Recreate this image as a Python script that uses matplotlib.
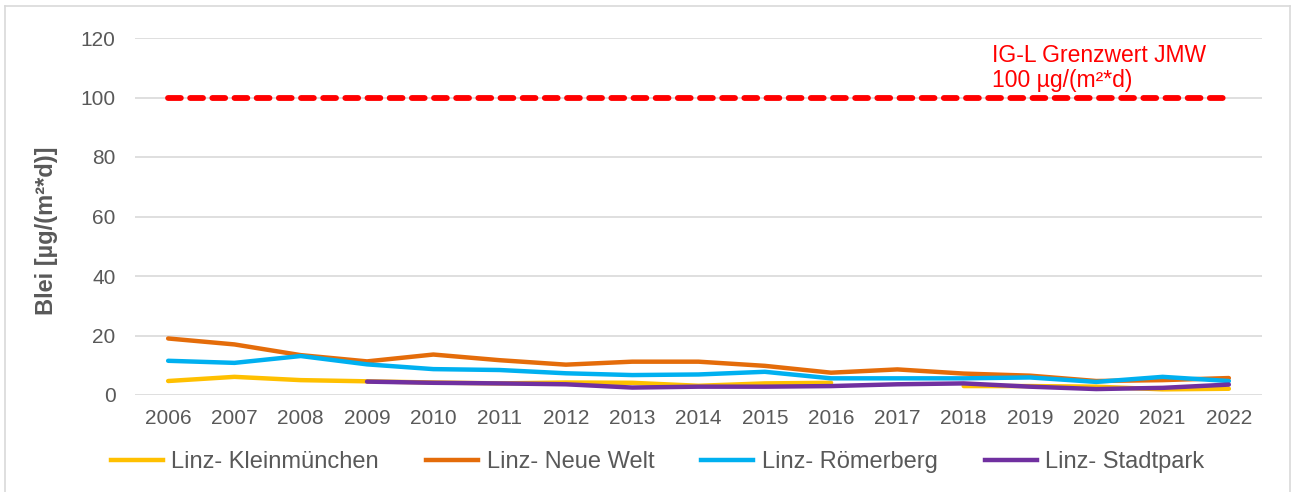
import numpy as np
import matplotlib.pyplot as plt
from matplotlib.lines import Line2D

plt.rcParams['font.family'] = ['Liberation Sans', 'DejaVu Sans']

years = list(range(2006, 2023))

kleinmuenchen = [4.7, 6.1, 5.0, 4.6, 4.2, 3.9, 4.2, 4.1, 3.1, 3.9, 4.1, np.nan, 3.0, 3.0, 2.8, 1.9, 2.1]
neue_welt = [19.0, 17.0, 13.4, 11.3, 13.6, 11.7, 10.2, 11.2, 11.2, 9.8, 7.5, 8.6, 7.2, 6.5, 4.7, 5.0, 5.7]
roemerberg = [11.5, 10.8, 13.1, 10.3, 8.7, 8.4, 7.3, 6.7, 6.9, 7.8, 5.6, 5.6, 5.6, 5.9, 4.4, 6.1, 4.7]
stadtpark = [np.nan, np.nan, np.nan, 4.5, 4.1, 3.9, 3.6, 2.5, 2.8, 2.8, 3.0, 3.6, 3.9, 2.8, 2.0, 2.4, 3.5]
grenzwert = [100] * len(years)

series = [
    ("Linz- Kleinmünchen", kleinmuenchen, "#FFC000"),
    ("Linz- Neue Welt", neue_welt, "#E46C0A"),
    ("Linz- Römerberg", roemerberg, "#00B0F0"),
    ("Linz- Stadtpark", stadtpark, "#7030A0"),
]

fig = plt.figure(figsize=(12.92, 4.92), dpi=100)
ax = fig.add_axes([135 / 1292, 1 - 395 / 492, (1262 - 135) / 1292, (395 - 38) / 492])

handles = []
for name, vals, col in series:
    ax.plot(years, vals, color=col, lw=3.2, solid_capstyle='round', solid_joinstyle='round', zorder=3)
    handles.append(Line2D([0], [0], color=col, lw=3.2, label=name))

ax.plot(years, grenzwert, color='#FF0000', lw=4.2, dash_capstyle='round',
        dashes=(2.2, 1.6), zorder=3)
ax.text(2018.43, 102, "IG-L Grenzwert JMW\n100 µg/(m²*d)", color='#FF0000',
        fontsize=16.5, va='bottom', ha='left', linespacing=1.1)

ax.set_xlim(2005.5, 2022.5)
ax.set_ylim(0, 120)
ax.set_yticks(range(0, 121, 20))
ax.set_xticks(years)
ax.grid(axis='y', color='#D9D9D9', lw=1.2)
ax.set_axisbelow(True)
for s in ax.spines.values():
    s.set_visible(False)
ax.tick_params(length=0, labelsize=15, colors='#595959', pad=14)
ax.tick_params(axis='x', pad=10)
ax.set_ylabel("Blei [µg/(m²*d)]", fontsize=17, fontweight='bold', color='#595959', labelpad=12)
ax.yaxis.set_label_coords(-0.068, 0.46)

fig.legend(handles=handles, loc='center', bbox_to_anchor=(0.509, 1 - 462 / 492), ncol=4,
           frameon=False, fontsize=17, handlelength=2.2, handletextpad=0.35,
           columnspacing=2.0, labelcolor='#595959')

# outer chart border
for xs, ys in [([5 / 1292, 5 / 1292], [0, 1 - 6 / 492]),
               ([5 / 1292, 1290 / 1292], [1 - 6 / 492, 1 - 6 / 492]),
               ([1290 / 1292, 1290 / 1292], [0, 1 - 6 / 492])]:
    fig.add_artist(Line2D(xs, ys, color='#D9D9D9', lw=1.2, transform=fig.transFigure))

fig.savefig("out.png", dpi=100)
